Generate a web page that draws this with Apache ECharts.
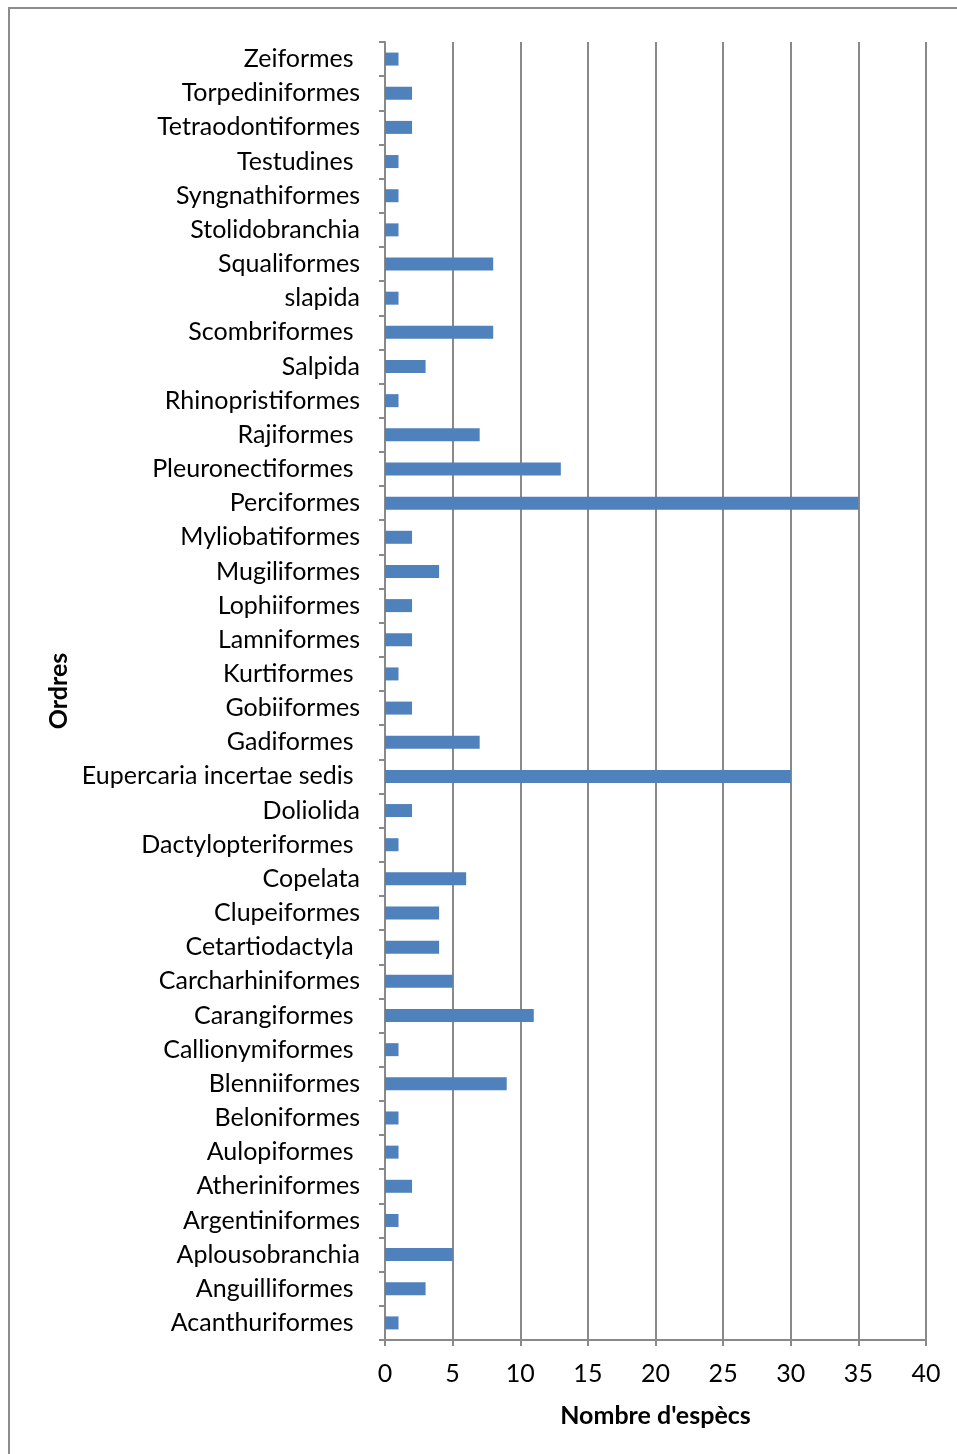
<!DOCTYPE html>
<html>
<head>
<meta charset="utf-8">
<script src="https://cdn.jsdelivr.net/npm/echarts@6/dist/echarts.min.js"></script>
<style>
  html, body { margin: 0; padding: 0; background: #fff; }
  #chart { width: 957px; height: 1454px; }
</style>
</head>
<body>
<div id="chart"></div>
<script>
// categories from bottom to top (trailing space kept where the source label had one)
const ordres = [
  'Acanthuriformes ', 'Anguilliformes ', 'Aplousobranchia', 'Argentiniformes', 'Atheriniformes',
  'Aulopiformes ', 'Beloniformes', 'Blenniiformes', 'Callionymiformes ', 'Carangiformes ',
  'Carcharhiniformes', 'Cetartiodactyla ', 'Clupeiformes', 'Copelata', 'Dactylopteriformes ',
  'Doliolida', 'Eupercaria incertae sedis ', 'Gadiformes ', 'Gobiiformes', 'Kurtiformes ',
  'Lamniformes', 'Lophiiformes', 'Mugiliformes', 'Myliobatiformes', 'Perciformes',
  'Pleuronectiformes ', 'Rajiformes ', 'Rhinopristiformes', 'Salpida', 'Scombriformes ',
  'slapida', 'Squaliformes', 'Stolidobranchia', 'Syngnathiformes', 'Testudines ',
  'Tetraodontiformes', 'Torpediniformes', 'Zeiformes '
];
const especes = [
  1, 3, 5, 1, 2,
  1, 1, 9, 1, 11,
  5, 4, 4, 6, 1,
  2, 30, 7, 2, 1,
  2, 2, 4, 2, 35,
  13, 7, 1, 3, 8,
  1, 8, 1, 1, 1,
  2, 2, 1
];
const xTicks = {min: 0, max: 40, interval: 5};

const font = 'Lato, "Open Sans", sans-serif';
const gridColor = '#898989';

const chart = echarts.init(document.getElementById('chart'));
chart.setOption({
  animation: false,
  backgroundColor: '#fff',
  graphic: [{
    type: 'rect',
    shape: {x: 9, y: 8, width: 980, height: 1480},
    style: {fill: 'none', stroke: '#8c8c8c', lineWidth: 2},
    silent: true
  }],
  grid: {left: 385, right: 31, top: 42, bottom: 114},
  xAxis: {
    type: 'value',
    min: xTicks.min,
    max: xTicks.max,
    interval: xTicks.interval,
    name: "Nombre d'espècs",
    nameLocation: 'middle',
    nameGap: 63,
    nameTextStyle: {fontFamily: font, fontSize: 25, fontWeight: 'bold', color: '#000'},
    axisLine: {show: true, lineStyle: {color: gridColor, width: 2}},
    axisTick: {show: true, length: 6, lineStyle: {color: gridColor, width: 2}},
    axisLabel: {fontFamily: font, fontSize: 25, color: '#000', margin: 21},
    splitLine: {show: true, lineStyle: {color: gridColor, width: 2}}
  },
  yAxis: {
    type: 'category',
    data: ordres,
    name: 'Ordres',
    nameLocation: 'middle',
    nameGap: 310,
    nameRotate: 90,
    nameTextStyle: {fontFamily: font, fontSize: 25, fontWeight: 'bold', color: '#000'},
    axisLine: {show: true, lineStyle: {color: gridColor, width: 2}},
    axisTick: {show: true, length: 6, inside: false, lineStyle: {color: gridColor, width: 2}},
    axisLabel: {fontFamily: font, fontSize: 25, color: '#000', margin: 25, interval: 0},
    splitLine: {show: false}
  },
  series: [{
    type: 'bar',
    data: especes,
    barWidth: 13,
    itemStyle: {color: '#4f81bd'}
  }]
});
</script>
</body>
</html>
